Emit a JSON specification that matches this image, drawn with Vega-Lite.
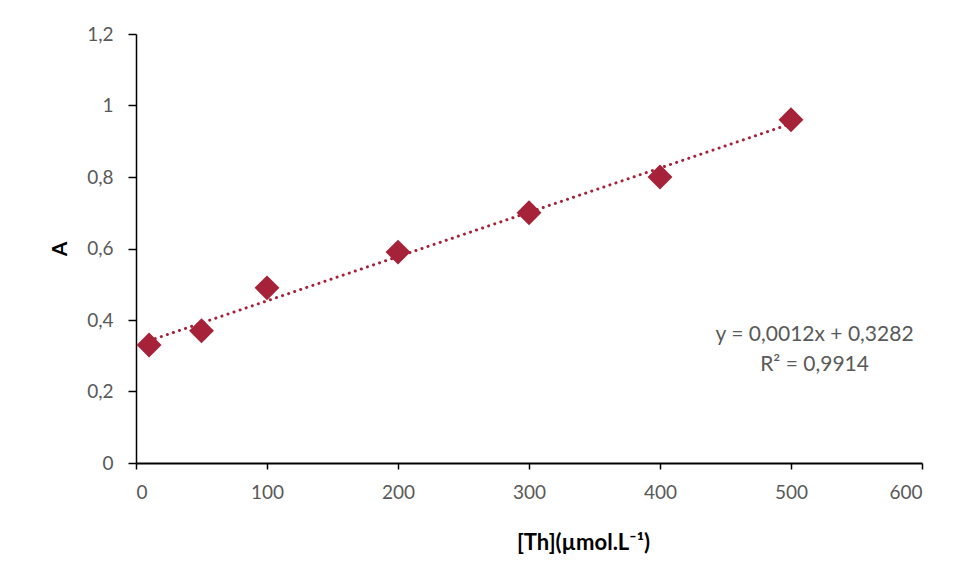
{
  "$schema": "https://vega.github.io/schema/vega-lite/v6.json",
  "width": 786,
  "height": 429,
  "autosize": {"type": "none"},
  "padding": {"left": 136, "top": 34, "right": 37, "bottom": 116},
  "background": "white",
  "config": {
    "view": {"stroke": null},
    "font": "Lato"
  },
  "datasets": {
    "pts": [
      {"c": 10, "A": 0.33},
      {"c": 50, "A": 0.37},
      {"c": 100, "A": 0.49},
      {"c": 200, "A": 0.59},
      {"c": 300, "A": 0.70},
      {"c": 400, "A": 0.80},
      {"c": 500, "A": 0.96}
    ],
    "eq": [
      {"c": 518, "A": 0.358, "t": "y = 0,0012x + 0,3282"},
      {"c": 518, "A": 0.274, "t": "R² = 0,9914"}
    ]
  },
  "layer": [
    {
      "data": {"name": "pts"},
      "transform": [{"regression": "A", "on": "c", "extent": [10, 500]}],
      "mark": {"type": "line", "color": "#A52238", "strokeWidth": 3, "strokeDash": [0.1, 6.3], "strokeCap": "round"},
      "encoding": {
        "x": {"field": "c", "type": "quantitative"},
        "y": {"field": "A", "type": "quantitative"}
      }
    },
    {
      "data": {"name": "pts"},
      "mark": {"type": "point", "shape": "diamond", "filled": true, "color": "#A52238", "opacity": 1, "size": 620},
      "encoding": {
        "x": {
          "field": "c", "type": "quantitative",
          "scale": {"domain": [0, 600], "nice": false},
          "axis": {
            "values": [0, 100, 200, 300, 400, 500, 600],
            "title": "[Th](µmol.L⁻¹)",
            "titleFont": "Lato", "titleFontSize": 22, "titleFontWeight": "bold", "titleColor": "#000000",
            "titleX": 447, "titlePadding": 30,
            "labelFont": "Lato", "labelFontSize": 19, "labelColor": "#595959", "labelPadding": 14,
            "domainColor": "#000000", "domainWidth": 2.2,
            "tickColor": "#000000", "tickWidth": 1.5, "tickSize": 6,
            "grid": false
          }
        },
        "y": {
          "field": "A", "type": "quantitative",
          "scale": {"domain": [0, 1.2], "nice": false},
          "axis": {
            "values": [0, 0.2, 0.4, 0.6, 0.8, 1, 1.2],
            "labelExpr": "replace(format(datum.value, '~g'), '.', ',')",
            "title": "A",
            "titleFont": "Lato", "titleFontSize": 21, "titleFontWeight": "bold", "titleColor": "#000000",
            "titlePadding": 16,
            "labelFont": "Lato", "labelFontSize": 19, "labelColor": "#595959", "labelPadding": 15,
            "domainColor": "#000000", "domainWidth": 1.5,
            "tickColor": "#000000", "tickWidth": 1.5, "tickSize": 8,
            "grid": false
          }
        }
      }
    },
    {
      "data": {"name": "eq"},
      "mark": {"type": "text", "font": "Lato", "fontSize": 21, "color": "#595959", "align": "center", "baseline": "middle"},
      "encoding": {
        "x": {"field": "c", "type": "quantitative"},
        "y": {"field": "A", "type": "quantitative"},
        "text": {"field": "t"}
      }
    }
  ]
}
